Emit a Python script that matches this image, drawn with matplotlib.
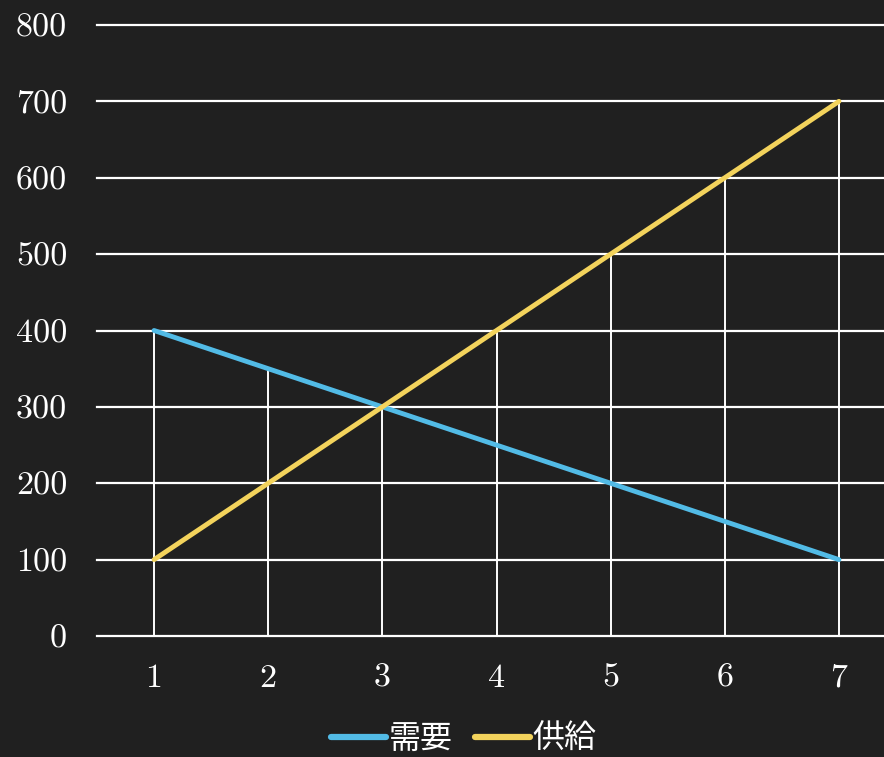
import matplotlib
matplotlib.use("Agg")
import matplotlib.pyplot as plt
import numpy as np

x = [1, 2, 3, 4, 5, 6, 7]
demand = [400, 350, 300, 250, 200, 150, 100]
supply = [100, 200, 300, 400, 500, 600, 700]
y_ticks = [0, 100, 200, 300, 400, 500, 600, 700, 800]
labels = ["需要", "供給"]

bg = "#202020"
blue = "#52bbe6"
yellow = "#f3d35c"

fig = plt.figure(figsize=(8.84, 7.57), dpi=100, facecolor=bg)
ax = fig.add_axes([97 / 884, 121 / 757, 799 / 884, 611 / 757])
ax.set_facecolor(bg)

ax.set_xlim(0.5, 7.5)
ax.set_ylim(0, 800)

for yt in y_ticks:
    ax.axhline(yt, color="white", lw=1.6, zorder=1, clip_on=False)
tops = [max(d, s) for d, s in zip(demand, supply)]
ax.vlines(x, 0, tops, color="white", lw=1.4, zorder=1)

ax.plot(x, demand, color=blue, lw=3.5, solid_capstyle="round", label=labels[0], zorder=3)
ax.plot(x, supply, color=yellow, lw=3.5, solid_capstyle="round", label=labels[1], zorder=3)

for s in ax.spines.values():
    s.set_visible(False)
ax.set_xticks(x)
ax.set_yticks(y_ticks)
ax.tick_params(length=0, colors="white", labelsize=24.5)
ax.tick_params(axis="x", pad=20)
ax.tick_params(axis="y", pad=21.5)
for lab in ax.get_xticklabels() + ax.get_yticklabels():
    lab.set_fontfamily("cmr10")
    lab.set_color("white")

leg = fig.legend(loc="lower center", bbox_to_anchor=(0.525, -0.035), ncol=2, frameon=False,
                 prop={"family": ["Noto Sans CJK JP", "DejaVu Sans"], "size": 23},
                 handlelength=1.7, handletextpad=0.1, columnspacing=0.7)
for t in leg.get_texts():
    t.set_color("white")
for h in leg.get_lines():
    h.set_linewidth(4.5)

fig.savefig("out.png", dpi=100, facecolor=bg)
